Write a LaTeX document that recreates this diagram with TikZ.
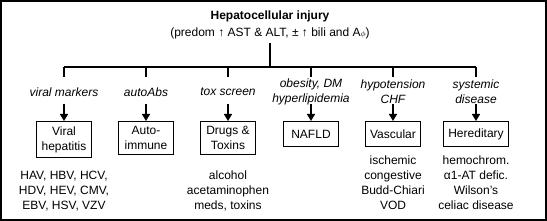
\documentclass[tikz,border=0pt]{standalone}
\usepackage{fontspec}
\setmainfont{Liberation Sans}
\usetikzlibrary{arrows.meta,positioning}

\begin{document}
\begin{tikzpicture}[x=1pt, y=-1pt,
  every node/.style={font=\fontsize{12}{15}\selectfont, align=center},
  kind/.style={draw, line width=1pt, minimum width=55pt, minimum height=25pt, inner xsep=5pt, inner ysep=5pt, anchor=north},
  cause/.style={font=\fontsize{12}{15}\selectfont\itshape, inner sep=2pt},
  info/.style={anchor=south, inner sep=2pt, text depth=3pt},
  bus/.style={line width=1.2pt},
  arr/.style={-{Triangle[length=7pt, width=8pt]}, line width=1.6pt}]
  \useasboundingbox (0,0) rectangle (547,221);
  \draw[line width=1.5pt] (1,1) rectangle (546,220);
  % ---------------- top
  \node[font=\fontsize{12}{17}\selectfont] (inj) at (270,25) {\textbf{Hepatocellular injury}\\(predom ↑ AST \& ALT, ± ↑ bili and A{\footnotesize$\phi$})};
  % ---------------- branches
  \foreach \n/\xx/\why/\what in {
    vir/64/{viral markers}/{Viral\\hepatitis},
    aut/146/{autoAbs}/{Auto-\\immune},
    tox/228/{tox screen}/{Drugs \&\\Toxins},
    naf/311/{obesity, DM\\hyperlipidemia}/{NAFLD},
    vas/393/{hypotension\\CHF}/{Vascular},
    her/476/{systemic\\disease}/{Hereditary}}{
    \coordinate (\n-t) at (\xx,67);
    \coordinate (\n-b) at (\xx,77);
    \coordinate (\n-a) at (\xx,104);
    \node[cause] (\n-c) at (\xx,92) {\why};
    \node[kind] (\n) at (\xx,121) {\what};
    \draw[bus] (\n-t) -- (\n-b);
    \draw[arr] (\n-a) -- (\n);}
  \draw[bus] (vir-t) -- (her-t);
  \draw[bus] (inj) -- (inj |- vir-t);
  % ---------------- details
  \node[info] (vir-d) at (64,215) {HAV, HBV, HCV,\\HDV, HEV, CMV,\\EBV, HSV, VZV};
  \node[info] (tox-d) at (228,215) {alcohol\\acetaminophen\\meds, toxins};
  \node[info] (vas-d) at (393,215) {ischemic\\congestive\\Budd-Chiari\\VOD};
  \node[info] (her-d) at (476,215) {hemochrom.\\α1-AT defic.\\Wilson’s\\celiac disease};
\end{tikzpicture}
\end{document}
